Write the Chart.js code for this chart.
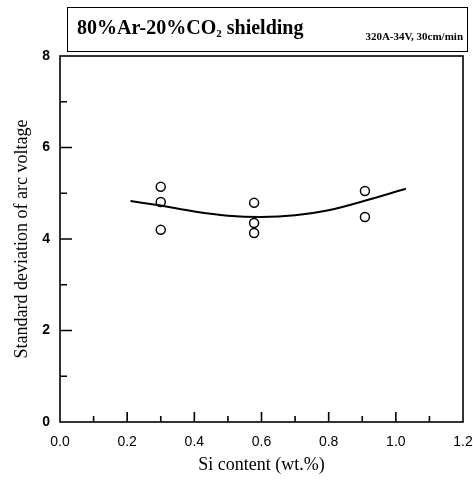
<!DOCTYPE html>
<html>
<head>
<meta charset="utf-8">
<script src="https://cdn.jsdelivr.net/npm/chart.js@4/dist/chart.umd.min.js"></script>
<style>
  body { margin: 0; background: #fff; }
  #wrap { position: relative; width: 473px; height: 486px; }
  #titleBox {
    position: absolute; left: 67px; top: 7px; width: 401px; height: 45px;
    border: 1.5px solid #000; box-sizing: border-box;
    font-family: "Liberation Serif", "Times New Roman", serif; font-weight: bold; color: #000;
  }
  #titleMain { position: absolute; left: 9px; top: 8px; font-size: 20px; white-space: nowrap; }
  #titleMain sub { font-size: 11px; vertical-align: -3px; }
  #titleSub { position: absolute; right: 4px; top: 22px; font-size: 11px; white-space: nowrap; }
</style>
</head>
<body>
<div id="wrap">
  <canvas id="grafico" width="473" height="486"></canvas>
  <div id="titleBox">
    <span id="titleMain">80%Ar-20%CO<sub>2</sub> shielding</span>
    <span id="titleSub">320A-34V, 30cm/min</span>
  </div>
</div>
<script>
// measured points
const siContent = [0.3, 0.3, 0.3, 0.578, 0.578, 0.578, 0.908, 0.908];
const arcVoltageSD = [5.14, 4.81, 4.2, 4.79, 4.35, 4.13, 5.05, 4.48];

// fitted curve
const fitSi = [0.21, 0.3, 0.4, 0.5, 0.6, 0.7, 0.8, 0.9, 1.03];
const fitSD = [4.83, 4.73, 4.6, 4.51, 4.48, 4.52, 4.63, 4.82, 5.1];

// minor tick marks
const xMinorTicks = [0.1, 0.3, 0.5, 0.7, 0.9, 1.1];
const yMinorTicks = [1, 3, 5, 7];

const pontos = siContent.map((x, i) => ({ x: x, y: arcVoltageSD[i] }));
const curva = fitSi.map((x, i) => ({ x: x, y: fitSD[i] }));

// frame + inward ticks
const molduraPlugin = {
  id: 'moldura',
  afterDraw(chart) {
    const ctx = chart.ctx;
    const a = chart.chartArea;
    const xs = chart.scales.x;
    const ys = chart.scales.y;
    ctx.save();
    ctx.strokeStyle = '#000';
    ctx.lineWidth = 1.6;
    ctx.strokeRect(a.left, a.top, a.right - a.left, a.bottom - a.top);
    ctx.beginPath();
    xs.ticks.forEach(t => {
      if (t.value <= xs.min || t.value >= xs.max) return;
      const px = xs.getPixelForValue(t.value);
      ctx.moveTo(px, a.bottom); ctx.lineTo(px, a.bottom - 10);
    });
    xMinorTicks.forEach(v => {
      const px = xs.getPixelForValue(v);
      ctx.moveTo(px, a.bottom); ctx.lineTo(px, a.bottom - 6);
    });
    ys.ticks.forEach(t => {
      if (t.value <= ys.min || t.value >= ys.max) return;
      const py = ys.getPixelForValue(t.value);
      ctx.moveTo(a.left, py); ctx.lineTo(a.left + 12, py);
    });
    yMinorTicks.forEach(v => {
      const py = ys.getPixelForValue(v);
      ctx.moveTo(a.left, py); ctx.lineTo(a.left + 7, py);
    });
    ctx.stroke();
    ctx.restore();
  }
};

const grafico = new Chart(document.getElementById('grafico').getContext('2d'), {
  type: 'scatter',
  data: {
    datasets: [{
      type: 'line',
      data: curva,
      borderColor: '#000',
      borderWidth: 2,
      pointRadius: 0,
      tension: 0.4,
      fill: false
    }, {
      data: pontos,
      borderColor: '#000',
      backgroundColor: '#fff',
      borderWidth: 1.5,
      pointRadius: 4.5
    }]
  },
  options: {
    responsive: false,
    animation: false,
    events: [],
    layout: { padding: { top: 56, right: 10, left: 0, bottom: 0 } },
    plugins: { legend: { display: false }, tooltip: { enabled: false } },
    scales: {
      x: {
        type: 'linear',
        min: 0, max: 1.2,
        afterFit(scale) { scale.height = 64; scale.paddingLeft = 0; scale.paddingRight = 0; },
        grid: { display: false, drawTicks: false },
        border: { display: false },
        ticks: {
          stepSize: 0.2,
          padding: 12,
          color: '#000',
          font: { family: '"Liberation Sans", Arial, sans-serif', size: 14 },
          callback: v => v.toFixed(1)
        },
        title: {
          display: true,
          text: 'Si content (wt.%)',
          color: '#000',
          padding: { top: 10, bottom: 10 },
          font: { family: '"Liberation Serif", "Times New Roman", serif', size: 18 }
        }
      },
      y: {
        min: 0, max: 8,
        afterFit(scale) { scale.width = 60; scale.paddingTop = 0; scale.paddingBottom = 0; },
        grid: { display: false, drawTicks: false },
        border: { display: false },
        ticks: {
          stepSize: 2,
          padding: 10,
          color: '#000',
          font: { family: '"Liberation Sans", Arial, sans-serif', size: 14, weight: 'bold' }
        },
        title: {
          display: true,
          text: 'Standard deviation of arc voltage',
          color: '#000',
          padding: { top: 11, bottom: 11 },
          font: { family: '"Liberation Serif", "Times New Roman", serif', size: 18 }
        }
      }
    }
  },
  plugins: [molduraPlugin]
});
</script>
</body>
</html>
